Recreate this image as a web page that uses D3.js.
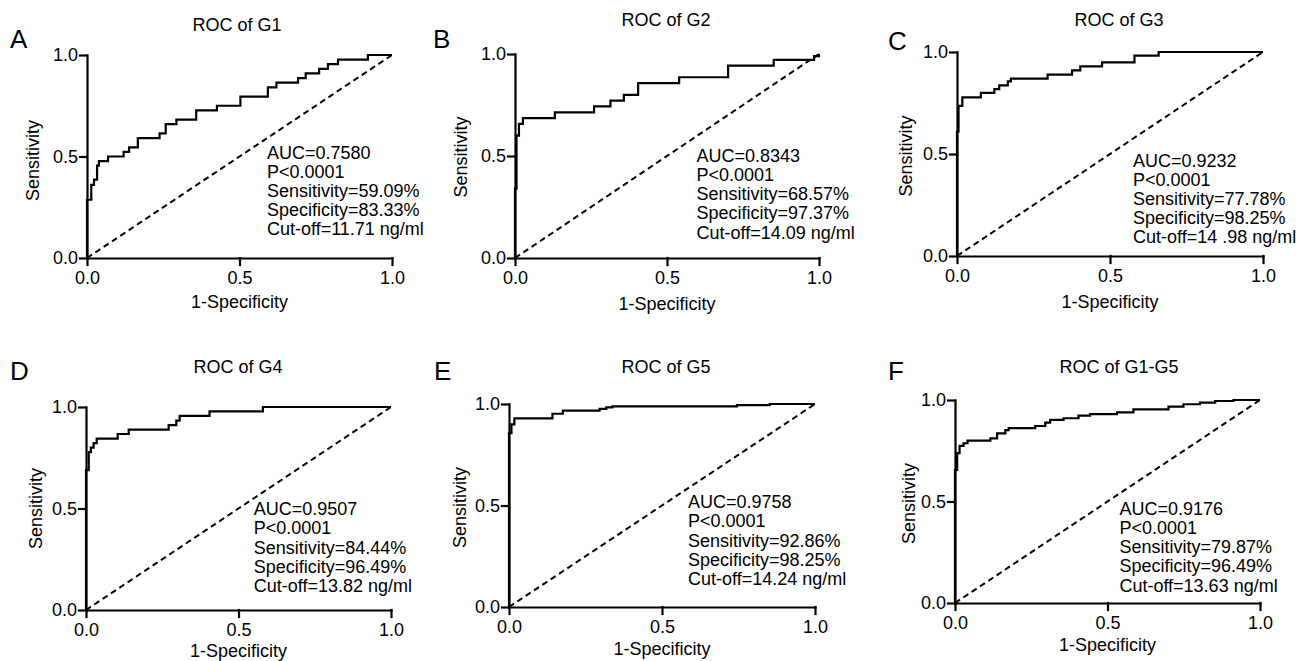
<!DOCTYPE html>
<html>
<head>
<meta charset="utf-8">
<script src="https://cdn.jsdelivr.net/npm/d3@7"></script>
<style>
  body { margin: 0; background: #fff; }
  text { font-family: "Liberation Sans", Arial, Helvetica, sans-serif; fill: #000; }
</style>
</head>
<body>
<svg width="1308" height="661"></svg>
<script>
// ---- data ----
var letters = ["A", "B", "C", "D", "E", "F"];
var titles = ["ROC of G1", "ROC of G2", "ROC of G3", "ROC of G4", "ROC of G5", "ROC of G1-G5"];

var fprG1 = [0, 0, 0.014, 0.023, 0.033, 0.039, 0.069, 0.12, 0.138, 0.1667, 0.238, 0.258, 0.293, 0.358, 0.426, 0.503, 0.593, 0.621, 0.692, 0.717, 0.761, 0.79, 0.823, 0.921, 1];
var tprG1 = [0, 0.287, 0.36, 0.386, 0.455, 0.477, 0.5, 0.523, 0.545, 0.591, 0.614, 0.659, 0.682, 0.727, 0.75, 0.795, 0.841, 0.864, 0.886, 0.909, 0.932, 0.955, 0.977, 1, 1];

var fprG2 = [0, 0, 0.005, 0.013, 0.026, 0.131, 0.26, 0.314, 0.358, 0.405, 0.54, 0.701, 0.851, 0.984, 1];
var tprG2 = [0, 0.34, 0.6, 0.657, 0.686, 0.714, 0.743, 0.771, 0.8, 0.857, 0.886, 0.943, 0.971, 0.99, 1];

var fprG3 = [0, 0, 0.005, 0.0175, 0.078, 0.122, 0.138, 0.166, 0.176, 0.296, 0.376, 0.403, 0.474, 0.58, 0.659, 1];
var tprG3 = [0, 0.61, 0.736, 0.778, 0.8, 0.818, 0.836, 0.856, 0.869, 0.889, 0.91, 0.93, 0.949, 0.982, 1, 1];

var fprG4 = [0, 0, 0.009, 0.016, 0.025, 0.035, 0.104, 0.14, 0.271, 0.296, 0.307, 0.405, 0.58, 1];
var tprG4 = [0, 0.689, 0.778, 0.8, 0.822, 0.844, 0.867, 0.889, 0.911, 0.933, 0.956, 0.978, 1, 1];

var fprG5 = [0, 0, 0.008, 0.0175, 0.142, 0.176, 0.296, 0.318, 0.338, 0.745, 0.852, 1];
var tprG5 = [0, 0.857, 0.9, 0.929, 0.952, 0.967, 0.976, 0.983, 0.988, 0.994, 1, 1];

var fprAll = [0, 0, 0.007, 0.015, 0.028, 0.041, 0.116, 0.138, 0.165, 0.176, 0.263, 0.296, 0.312, 0.356, 0.405, 0.443, 0.531, 0.585, 0.7, 0.749, 0.803, 0.853, 0.913, 1];
var tprAll = [0, 0.656, 0.738, 0.774, 0.787, 0.8, 0.811, 0.836, 0.852, 0.861, 0.872, 0.889, 0.902, 0.91, 0.923, 0.93, 0.939, 0.954, 0.967, 0.979, 0.987, 0.995, 1, 1];

var aucVals = ["0.7580", "0.8343", "0.9232", "0.9507", "0.9758", "0.9176"];
var pVals = ["<0.0001", "<0.0001", "<0.0001", "<0.0001", "<0.0001", "<0.0001"];
var sensVals = ["59.09%", "68.57%", "77.78%", "84.44%", "92.86%", "79.87%"];
var specVals = ["83.33%", "97.37%", "98.25%", "96.49%", "98.25%", "96.49%"];
var cutVals = ["11.71", "14.09", "14 .98", "13.82", "14.24", "13.63"];

var axisTicks = [0, 0.5, 1];
var xLabel = "1-Specificity";
var yLabel = "Sensitivity";

var fprs = [fprG1, fprG2, fprG3, fprG4, fprG5, fprAll];
var tprs = [tprG1, tprG2, tprG3, tprG4, tprG5, tprAll];

// ---- layout (pixels) ----
// l,r,t,b = plot box; tx,ty = title; lx,ly = panel letter; ax,ay = annotation (data units);
// xl = x-label offset below axis; yl = y-label offset left of axis; yc = y-label vertical shift
var layout = [
  {l: 87,  r: 392,  t: 55,  b: 258, tx: 237,  ty: 31,  lx: 10,  ly: 48,  ax: 0.59,  ay: 0.49,  xl: 50, yl: 48, yc: 4},
  {l: 515, r: 819,  t: 54,  b: 258, tx: 666,  ty: 26,  lx: 433, ly: 48,  ax: 0.597, ay: 0.472, xl: 52, yl: 48, yc: 1},
  {l: 957, r: 1263, t: 52,  b: 256, tx: 1119, ty: 26,  lx: 888, ly: 50,  ax: 0.575, ay: 0.438, xl: 52, yl: 45, yc: 2},
  {l: 86,  r: 391,  t: 407, b: 610, tx: 238,  ty: 373, lx: 10,  ly: 380, ax: 0.55,  ay: 0.467, xl: 47, yl: 44, yc: 0},
  {l: 509, r: 815,  t: 404, b: 607, tx: 666,  ty: 373, lx: 434, ly: 380, ax: 0.585, ay: 0.487, xl: 48, yl: 43, yc: 2},
  {l: 955, r: 1260, t: 400, b: 603, tx: 1119, ty: 373, lx: 888, ly: 380, ax: 0.539, ay: 0.434, xl: 48, yl: 40, yc: 2}
];

var FS = "18px";
var svg = d3.select("svg");
var fmt = d3.format(".1f");

layout.forEach(function (p, i) {
  var x = d3.scaleLinear().domain([0, 1]).range([p.l, p.r]);
  var y = d3.scaleLinear().domain([0, 1]).range([p.b, p.t]);
  var g = svg.append("g");

  // panel letter + title
  g.append("text").attr("x", p.lx).attr("y", p.ly)
    .style("font-size", "26px").text(letters[i]);
  g.append("text").attr("x", p.tx).attr("y", p.ty)
    .attr("text-anchor", "middle").style("font-size", FS).text(titles[i]);

  // axes
  var xa = g.append("g").attr("transform", "translate(0," + p.b + ")")
    .call(d3.axisBottom(x).tickValues(axisTicks).tickFormat(fmt)
      .tickSize(7).tickSizeOuter(0).tickPadding(6));
  var ya = g.append("g").attr("transform", "translate(" + p.l + ",0)")
    .call(d3.axisLeft(y).tickValues(axisTicks).tickFormat(fmt)
      .tickSize(7).tickSizeOuter(0).tickPadding(2));
  [xa, ya].forEach(function (a) {
    a.selectAll("path,line").attr("stroke", "#000").attr("stroke-width", 2.2)
      .attr("stroke-linecap", "square");
    a.selectAll("text").style("font-size", FS)
      .style("font-family", "'Liberation Sans', Arial, sans-serif").attr("fill", "#000");
  });

  g.append("text")
    .attr("x", (p.l + p.r) / 2).attr("y", p.b + p.xl)
    .attr("text-anchor", "middle").style("font-size", FS).text(xLabel);
  g.append("text")
    .attr("transform", "translate(" + (p.l - p.yl) + "," + ((p.t + p.b) / 2 + p.yc) + ") rotate(-90)")
    .attr("text-anchor", "middle").style("font-size", FS).text(yLabel);

  // reference diagonal
  g.append("line")
    .attr("x1", x(0)).attr("y1", y(0)).attr("x2", x(1)).attr("y2", y(1))
    .attr("stroke", "#000").attr("stroke-width", 2).attr("stroke-dasharray", "6,4");

  // ROC step curve
  var pts = fprs[i].map(function (f, k) { return [f, tprs[i][k]]; });
  var line = d3.line().x(function (d) { return x(d[0]); }).y(function (d) { return y(d[1]); })
    .curve(d3.curveStepAfter);
  g.append("path").datum(pts).attr("d", line)
    .attr("fill", "none").attr("stroke", "#000").attr("stroke-width", 2.2);

  // stats annotation
  var lines = [
    "AUC=" + aucVals[i],
    "P" + pVals[i],
    "Sensitivity=" + sensVals[i],
    "Specificity=" + specVals[i],
    "Cut-off=" + cutVals[i] + " ng/ml"
  ];
  g.append("text").attr("x", x(p.ax)).attr("y", y(p.ay))
    .style("font-size", FS)
    .selectAll("tspan").data(lines).enter().append("tspan")
    .attr("x", x(p.ax)).attr("dy", function (d, k) { return k === 0 ? 0 : 19.2; })
    .text(function (d) { return d; });
});
</script>
</body>
</html>
